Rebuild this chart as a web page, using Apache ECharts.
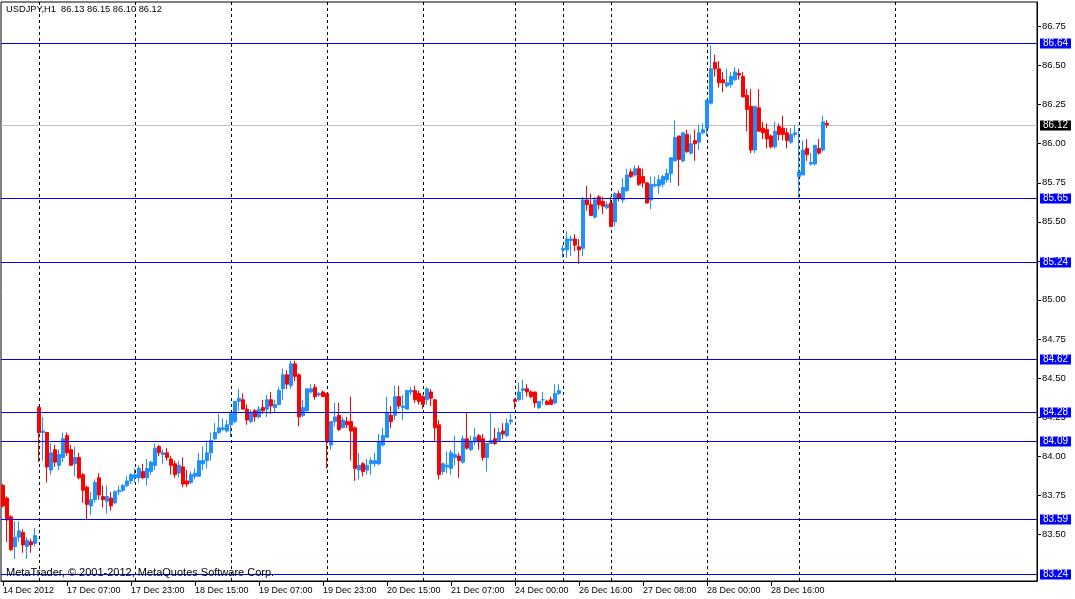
<!DOCTYPE html>
<html>
<head>
<meta charset="utf-8">
<script src="https://cdn.jsdelivr.net/npm/echarts@6/dist/echarts.min.js"></script>
<style>html,body{margin:0;padding:0;background:#fff;}#c{width:1075px;height:599px;}</style>
</head>
<body>
<div id="c"></div>
<script>
// ---- data (USDJPY H1) ----
const opens = [83.81,83.73,83.61,83.42,83.48,83.51,83.42,83.45,83.44,84.31,84.15,84.15,83.91,84.04,83.94,83.99,84.13,84.04,83.95,83.99,
83.88,83.80,83.68,83.72,83.86,83.74,83.71,83.73,83.70,83.77,83.78,83.81,83.84,83.86,83.86,83.90,83.86,83.90,83.94,84.06,
84.01,84.02,83.98,83.95,83.89,83.93,83.84,83.83,83.87,83.87,83.95,83.97,84.02,84.11,84.15,84.17,84.16,84.20,84.22,84.35,
84.36,84.30,84.22,84.29,84.25,84.31,84.30,84.36,84.31,84.33,84.43,84.52,84.45,84.59,84.52,84.26,84.29,84.41,84.44,84.39,
84.41,84.40,84.07,84.22,84.26,84.18,84.22,84.22,84.18,83.91,83.95,83.91,83.95,83.95,83.95,84.07,84.12,84.26,84.26,84.38,
84.31,84.30,84.41,84.42,84.40,84.38,84.36,84.41,84.36,84.20,83.90,83.93,83.92,83.99,84.00,83.96,84.11,84.04,84.09,84.13,
84.11,83.99,84.08,84.11,84.10,84.16,84.13,84.22,84.36,84.36,84.42,84.43,84.41,84.41,84.31,84.36,84.35,84.36,84.34,84.40,
85.32,85.32,85.38,85.39,85.34,85.33,85.64,85.61,85.53,85.66,85.63,85.59,85.62,85.50,85.68,85.64,85.70,85.82,85.80,85.84,
85.79,85.75,85.64,85.73,85.73,85.74,85.77,85.81,85.89,86.05,85.89,86.06,85.94,86.02,86.01,86.07,86.10,86.26,86.52,86.48,
86.41,86.37,86.38,86.41,86.45,86.43,86.31,86.24,85.96,86.23,86.10,86.09,86.05,85.98,86.11,86.10,86.07,86.01,86.06,85.79,
85.80,85.97,85.87,85.87,85.97,85.96,86.13];
const highs = [83.82,83.74,83.62,83.58,83.58,83.53,83.48,83.47,83.54,84.32,84.25,84.15,84.08,84.07,84.04,84.15,84.15,84.07,84.06,84.02,
83.89,83.81,83.77,83.85,83.89,83.81,83.81,83.77,83.78,83.81,83.82,83.87,83.89,83.92,83.94,83.95,83.98,83.97,84.08,84.07,
84.04,84.05,84.00,83.97,83.97,83.99,83.91,83.90,83.92,84.02,84.06,84.10,84.15,84.21,84.27,84.24,84.23,84.28,84.35,84.43,
84.40,84.33,84.30,84.30,84.32,84.36,84.39,84.41,84.36,84.44,84.56,84.55,84.61,84.61,84.53,84.36,84.43,84.46,84.46,84.41,
84.42,84.40,84.22,84.34,84.34,84.25,84.25,84.38,84.19,84.02,83.96,83.98,83.99,84.02,84.14,84.18,84.38,84.32,84.45,84.45,
84.39,84.42,84.44,84.45,84.42,84.39,84.44,84.43,84.36,84.23,83.96,84.03,84.04,84.13,84.02,84.13,84.28,84.13,84.18,84.14,
84.14,84.08,84.28,84.18,84.18,84.21,84.24,84.27,84.37,84.47,84.49,84.46,84.42,84.41,84.35,84.41,84.36,84.38,84.46,84.46,
85.35,85.44,85.41,85.42,85.39,85.66,85.73,85.68,85.66,85.67,85.66,85.63,85.66,85.69,85.70,85.78,85.84,85.84,85.86,85.86,
85.84,85.75,85.79,85.79,85.80,85.80,85.84,85.91,86.15,86.05,86.07,86.09,86.06,86.09,86.12,86.13,86.28,86.63,86.57,86.53,
86.46,86.48,86.46,86.49,86.48,86.46,86.35,86.35,86.24,86.35,86.14,86.13,86.06,86.14,86.13,86.18,86.10,86.10,86.12,86.10,
86.02,86.03,85.94,85.99,86.03,86.18,86.15];
const lows = [83.67,83.45,83.39,83.34,83.45,83.38,83.34,83.38,83.42,83.96,83.97,83.83,83.88,83.93,83.91,83.96,84.00,83.94,83.87,83.85,
83.70,83.59,83.62,83.70,83.72,83.67,83.63,83.65,83.69,83.75,83.77,83.80,83.82,83.83,83.83,83.85,83.81,83.88,83.91,84.00,
83.95,83.97,83.88,83.86,83.86,83.80,83.80,83.82,83.85,83.87,83.91,83.92,83.97,84.10,84.14,84.16,84.15,84.12,84.21,84.29,
84.30,84.20,84.21,84.22,84.24,84.27,84.25,84.27,84.28,84.33,84.36,84.43,84.43,84.48,84.19,84.25,84.28,84.40,84.36,84.38,
84.38,83.92,84.04,84.19,84.16,84.18,84.18,83.97,83.84,83.85,83.87,83.88,83.88,83.93,83.94,84.06,84.12,84.18,84.23,84.30,
84.23,84.30,84.39,84.34,84.33,84.30,84.33,84.32,84.09,83.85,83.88,83.89,83.88,83.94,83.86,83.95,84.04,84.03,84.07,84.04,
83.97,83.90,84.08,84.07,84.10,84.11,84.12,84.20,84.30,84.35,84.36,84.38,84.37,84.31,84.30,84.33,84.33,84.33,84.33,84.39,
85.27,85.27,85.28,85.31,85.23,85.28,85.57,85.54,85.52,85.58,85.55,85.58,85.47,85.47,85.63,85.62,85.69,85.78,85.79,85.73,
85.72,85.62,85.58,85.72,85.68,85.72,85.75,85.75,85.89,85.73,85.88,85.94,85.93,85.89,85.96,86.06,86.05,86.25,86.43,86.36,
86.33,86.36,86.36,86.40,86.41,86.30,86.08,85.94,85.94,86.08,86.03,85.97,85.97,85.97,86.02,86.02,85.97,86.00,86.04,85.65,
85.80,85.89,85.86,85.86,85.93,85.95,86.10];
const closes = [83.68,83.59,83.40,83.48,83.52,83.43,83.46,83.43,83.49,84.15,84.16,83.93,84.02,83.96,84.01,84.11,84.02,83.94,83.99,83.86,
83.78,83.69,83.72,83.83,83.75,83.72,83.74,83.68,83.77,83.78,83.81,83.84,83.88,83.88,83.92,83.86,83.92,83.96,84.05,84.02,
84.02,83.99,83.94,83.88,83.94,83.82,83.82,83.88,83.89,83.97,83.97,84.02,84.10,84.15,84.18,84.18,84.20,84.27,84.35,84.37,
84.30,84.23,84.28,84.25,84.30,84.29,84.36,84.32,84.33,84.42,84.52,84.46,84.59,84.51,84.25,84.31,84.43,84.43,84.38,84.40,
84.38,84.09,84.22,84.25,84.17,84.23,84.20,84.16,83.92,83.94,83.90,83.94,83.97,83.97,84.09,84.13,84.28,84.22,84.38,84.32,
84.32,84.42,84.42,84.36,84.35,84.33,84.43,84.37,84.18,83.88,83.95,83.94,84.02,84.01,83.97,84.11,84.05,84.09,84.12,84.09,
83.99,84.08,84.10,84.08,84.15,84.14,84.21,84.23,84.35,84.41,84.43,84.41,84.38,84.34,84.35,84.36,84.33,84.33,84.40,84.42,
85.33,85.39,85.39,85.35,85.32,85.64,85.61,85.54,85.64,85.61,85.60,85.61,85.47,85.68,85.65,85.72,85.80,85.79,85.84,85.74,
85.75,85.62,85.74,85.74,85.77,85.79,85.81,85.91,86.04,85.90,86.07,85.95,86.00,86.00,86.07,86.09,86.28,86.48,86.48,86.39,
86.39,86.39,86.43,86.46,86.44,86.30,86.22,85.96,86.24,86.08,86.07,86.03,85.98,86.08,86.06,86.06,86.02,86.06,86.07,85.82,
85.96,85.93,85.88,85.99,85.94,86.14,86.12];

const barCount = 259; // slots on the time axis (incl. empty future space)
const xTickIdx = [0,16,32,48,64,80,96,112,128,144,160,176,192];
const xTickLabels = ['14 Dec 2012','17 Dec 07:00','17 Dec 23:00','18 Dec 15:00','19 Dec 07:00','19 Dec 23:00',
  '20 Dec 15:00','21 Dec 07:00','24 Dec 00:00','26 Dec 16:00','27 Dec 08:00','28 Dec 00:00','28 Dec 16:00'];
const dayLines = [9,33,57,81,105,128,140,152,176,199,223];
const levels = [86.64,85.65,85.24,84.62,84.28,84.09,83.59,83.24];
const bid = [86.12];
const yTicks = [83.50,83.75,84.00,84.25,84.50,84.75,85.00,85.25,85.50,85.75,86.00,86.25,86.50,86.75];
const title = 'USDJPY,H1  86.13 86.15 86.10 86.12';
const copyright = 'MetaTrader, \u00A9 2001-2012, MetaQuotes Software Corp.';

// ---- build ----
const categories = [];
for (let i = 0; i < barCount; i++) categories.push(String(i));
const candles = opens.map((o, i) => [o, closes[i], lows[i], highs[i]]);
const labelMap = {};
xTickIdx.forEach((idx, k) => { labelMap[idx] = xTickLabels[k]; });

const FONT = 'Liberation Sans';

// horizontal price line + right-hand price box, position from the library's y scale
function hLineRenderer(lineColor, boxColor) {
  return function (params, api) {
    const cs = params.coordSys;
    const v = api.value(1);
    const p = api.coord([0, v]);
    const y = Math.round(p[1] - 0.5) + 0.5;
    const x1 = cs.x + cs.width;
    return {
      type: 'group',
      children: [
        {type: 'line', shape: {x1: cs.x, y1: y, x2: x1, y2: y}, style: {stroke: lineColor, lineWidth: 1}},
        {type: 'text', x: x1 + 3, y: y, z2: 10, style: {
          text: v.toFixed(2), fill: '#fff', backgroundColor: boxColor, padding: [1, 3, 0, 3],
          font: '10px "Liberation Sans"', lineHeight: 9, align: 'left', verticalAlign: 'middle'}}
      ]
    };
  };
}
// vertical dashed day separators, position from the library's category scale
function vLineRenderer(params, api) {
  const cs = params.coordSys;
  const p = api.coord([api.value(0), 0]);
  const x = Math.round(p[0] - 0.5) + 0.5;
  return {type: 'line', shape: {x1: x, y1: cs.y, x2: x, y2: cs.y + cs.height},
    style: {stroke: '#000', lineWidth: 1, lineDash: [3, 3]}};
}

const chart = echarts.init(document.getElementById('c'), null, {renderer: 'canvas'});
chart.setOption({
  animation: false,
  backgroundColor: '#fff',
  grid: {left: 1, right: 38, top: 2, bottom: 18, show: true, borderColor: '#000', borderWidth: 1, backgroundColor: '#fff'},
  xAxis: {
    type: 'category',
    data: categories,
    boundaryGap: true,
    axisLine: {show: true, onZero: false, lineStyle: {color: '#000', width: 1}},
    axisTick: {show: true, alignWithLabel: true, length: 5, interval: (i) => labelMap[i] !== undefined, lineStyle: {color: '#000'}},
    axisLabel: {show: true, interval: (i) => labelMap[i] !== undefined, formatter: (v, i) => labelMap[i] || '',
      align: 'left', margin: 5, color: '#000', fontFamily: FONT, fontSize: 9},
    splitLine: {show: false}
  },
  yAxis: {
    type: 'value',
    position: 'right',
    min: 83.199,
    max: 86.908,
    scale: true,
    axisLine: {show: true, onZero: false, lineStyle: {color: '#000', width: 1}},
    axisTick: {show: true, length: 4, customValues: yTicks, lineStyle: {color: '#000'}},
    axisLabel: {show: true, customValues: yTicks, formatter: (v) => Number(v).toFixed(2), margin: 5,
      color: '#000', fontFamily: FONT, fontSize: 9.5},
    splitLine: {show: false}
  },
  series: [
    {
      type: 'custom', name: 'days', z: 1, silent: true, clip: false,
      data: dayLines.map(ix => [ix, 0]), encode: {x: 0, y: 1},
      renderItem: vLineRenderer
    },
    {
      type: 'custom', name: 'bid', z: 1, silent: true, clip: false,
      data: bid.map(v => [0, v]), encode: {x: 0, y: 1},
      renderItem: hLineRenderer('#C0C0C0', '#000')
    },
    {
      type: 'candlestick', name: 'USDJPY', z: 2,
      data: candles,
      barWidth: 3,
      itemStyle: {color: '#1E90FF', color0: '#FF0000', borderColor: '#1E90FF', borderColor0: '#FF0000', borderWidth: 1}
    },
    {
      type: 'custom', name: 'levels', z: 3, silent: true, clip: false,
      data: levels.map(v => [0, v]), encode: {x: 0, y: 1},
      renderItem: hLineRenderer('#0000FF', '#0000FF')
    }
  ],
  graphic: [
    {type: 'text', left: 6, top: 5, z: 100, style: {text: title, fill: '#000', font: '9.3px "Liberation Sans"'}},
    {type: 'text', left: 6, top: 567, z: 100, style: {text: copyright, fill: '#000', font: '11px "Liberation Sans"'}}
  ]
});
</script>
</body>
</html>
